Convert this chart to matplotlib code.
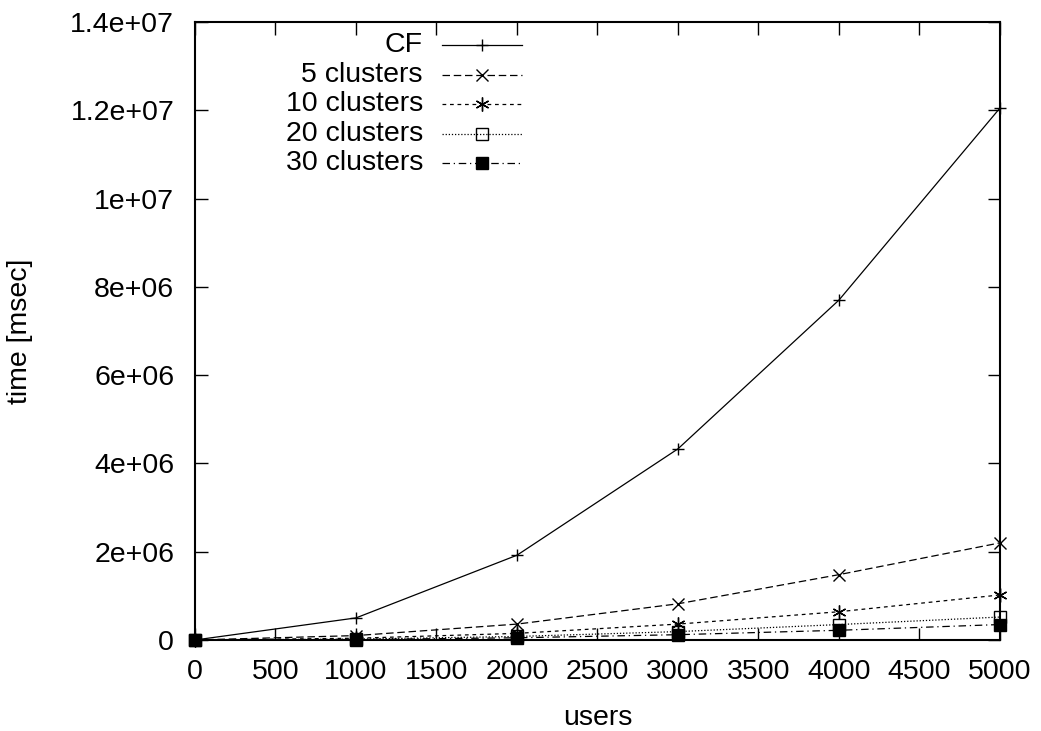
import matplotlib
matplotlib.use("Agg")
import matplotlib.pyplot as plt
from matplotlib.lines import Line2D
from matplotlib.ticker import FuncFormatter, MultipleLocator

plt.rcParams['font.family'] = ['Liberation Sans', 'DejaVu Sans']

users = [0, 1000, 2000, 3000, 4000, 5000]
cf = [0, 0.5e6, 1.92e6, 4.33e6, 7.7e6, 12.05e6]
c5 = [0, 0.1e6, 0.36e6, 0.82e6, 1.48e6, 2.2e6]
c10 = [0, 0.04e6, 0.15e6, 0.36e6, 0.64e6, 1.02e6]
c20 = [0, 0.02e6, 0.08e6, 0.19e6, 0.35e6, 0.52e6]
c30 = [0, 0.01e6, 0.05e6, 0.12e6, 0.22e6, 0.35e6]

labels = ["CF", "5 clusters", "10 clusters", "20 clusters", "30 clusters"]
series = [cf, c5, c10, c20, c30]

FS = 20.5

fig = plt.figure(figsize=(10.41, 7.31), dpi=100)
ax = fig.add_axes([0.1873, 0.1245, 0.7733, 0.8455])

asterisk = (6, 2, 0)
styles = [
    dict(ls='-', marker='+', ms=9, mfc='none'),
    dict(ls=(0, (6, 3)), marker='x', ms=8, mfc='none'),
    dict(ls=(0, (3, 3)), marker=asterisk, ms=10, mfc='none'),
    dict(ls=(0, (1, 1.5)), marker='s', ms=8, mfc='none'),
    dict(ls=(0, (6, 3, 1, 3)), marker='s', ms=8, mfc='black'),
]

for y, st in zip(series, styles):
    ax.plot(users, y, color='black', lw=0.9, mec='black', mew=1.0, clip_on=False, **st)

ax.set_xlim(0, 5000)
ax.set_ylim(0, 1.4e7)
ax.xaxis.set_major_locator(MultipleLocator(500))
ax.yaxis.set_major_locator(MultipleLocator(2e6))

def yfmt(v, pos):
    if v == 0:
        return "0"
    s = "%.1e" % v
    mant, exp = s.split('e')
    mant = mant.rstrip('0').rstrip('.')
    return "%se+%02d" % (mant, int(exp))

ax.yaxis.set_major_formatter(FuncFormatter(yfmt))
ax.tick_params(direction='in', length=9, width=1, top=True, right=True,
               labelsize=FS, colors='black')
ax.tick_params(axis='x', pad=14)
ax.tick_params(axis='y', pad=15)
for sp in ax.spines.values():
    sp.set_linewidth(1.5)

ax.set_xlabel("users", fontsize=FS, labelpad=14)
ax.set_ylabel("time [msec]", fontsize=FS, labelpad=27)

# legend (gnuplot style: right-aligned text, sample line to the right)
tr = ax.transAxes
x_text = (423 - 195) / 805
x0 = (442 - 195) / 805
x1 = (522 - 195) / 805
xm = (x0 + x1) / 2
rows = [45, 75, 104, 134, 163]
for lab, st, ry in zip(labels, styles, rows):
    yy = (640 - ry) / 618
    ax.text(x_text, yy, lab, transform=tr, ha='right', va='center', fontsize=FS)
    ax.add_line(Line2D([x0, x1], [yy, yy], transform=tr, color='black', lw=0.9,
                       ls=st['ls']))
    ax.add_line(Line2D([xm], [yy], transform=tr, color='black', ls='none',
                       marker=st['marker'], ms=st['ms'], mfc=st['mfc'],
                       mec='black', mew=1.0))

fig.savefig("out.png", dpi=100)
